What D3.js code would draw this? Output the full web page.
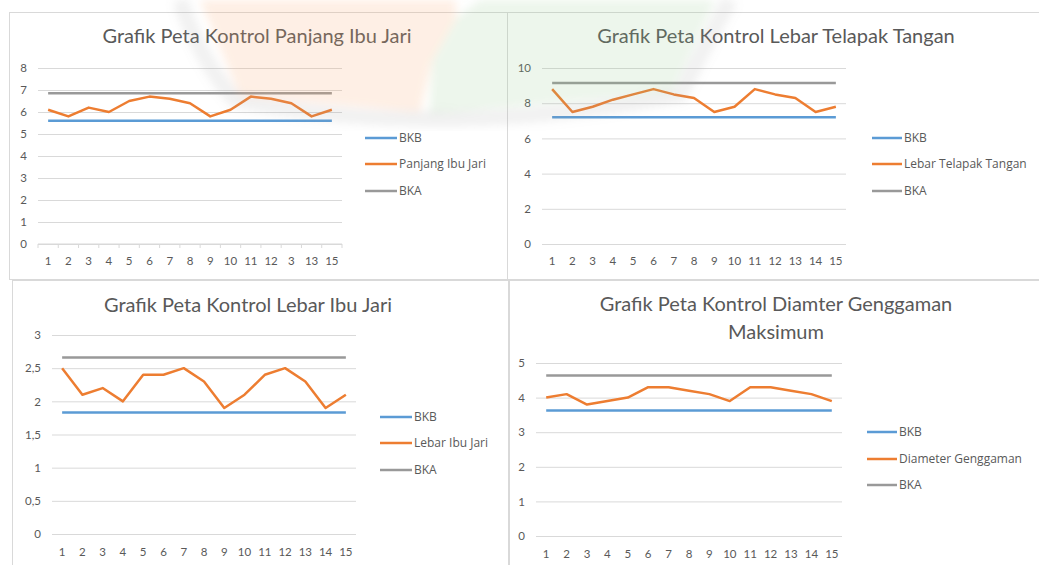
<!DOCTYPE html>
<html>
<head>
<meta charset="utf-8">
<script src="https://cdn.jsdelivr.net/npm/d3@7"></script>
<style>
  html, body { margin: 0; padding: 0; background: #ffffff; }
  svg { display: block; font-family: Lato, "Open Sans", sans-serif; }
</style>
</head>
<body>
<svg id="chart" width="1039" height="565"></svg>
<script>
// ---- data ----
const samplesPanjang = ["1","2","3","4","5","6","7","8","9","10","11","12","3","13","15"];
const samples = ["1","2","3","4","5","6","7","8","9","10","11","12","13","14","15"];

const panjangIbuJari = [6.1, 5.8, 6.2, 6.0, 6.5, 6.7, 6.6, 6.4, 5.8, 6.1, 6.7, 6.6, 6.4, 5.8, 6.1];
const bkbPanjangIbuJari = 5.6;
const bkaPanjangIbuJari = 6.85;

const lebarTelapakTangan = [8.8, 7.5, 7.8, 8.2, 8.5, 8.8, 8.5, 8.3, 7.5, 7.8, 8.8, 8.5, 8.3, 7.5, 7.8];
const bkbLebarTelapakTangan = 7.2;
const bkaLebarTelapakTangan = 9.15;

const lebarIbuJari = [2.5, 2.1, 2.2, 2.0, 2.4, 2.4, 2.5, 2.3, 1.9, 2.1, 2.4, 2.5, 2.3, 1.9, 2.1];
const bkbLebarIbuJari = 1.83;
const bkaLebarIbuJari = 2.66;

const diameterGenggaman = [4.0, 4.1, 3.8, 3.9, 4.0, 4.3, 4.3, 4.2, 4.1, 3.9, 4.3, 4.3, 4.2, 4.1, 3.9];
const bkbDiameterGenggaman = 3.63;
const bkaDiameterGenggaman = 4.64;

const ticksPanjang = [0, 1, 2, 3, 4, 5, 6, 7, 8];
const ticksTelapak = [0, 2, 4, 6, 8, 10];
const ticksLebar = [0, 0.5, 1, 1.5, 2, 2.5, 3];
const ticksDiameter = [0, 1, 2, 3, 4, 5];

// ---- styles ----
const colorBKB = "#5b9bd5";
const colorSeries = "#ed7d31";
const colorBKA = "#999999";
const textColor = "#595959";
const gridColor = "#d9d9d9";
const fmtComma = d => String(d).replace(".", ",");

const svg = d3.select("#chart");

// ---- chart panels ----
const charts = [
  {
    panel: [9, 12, 498, 267],
    title: ["Grafik Peta Kontrol Panjang Ibu Jari"], titleX: 257, titleY: 43,
    cats: samplesPanjang, values: panjangIbuJari, bkb: bkbPanjangIbuJari, bka: bkaPanjangIbuJari,
    name: "Panjang Ibu Jari",
    domain: [0, 8], ticks: ticksPanjang, fmt: d => String(d),
    x0: 38, x1: 342, yTop: 68, yBottom: 244, labelY: 265, axisTicks: true,
    legendX: 365, legendY: [138, 164, 191], legendW: 32
  },
  {
    panel: [507, 12, 540, 267],
    title: ["Grafik Peta Kontrol Lebar Telapak Tangan"], titleX: 776, titleY: 43,
    cats: samples, values: lebarTelapakTangan, bkb: bkbLebarTelapakTangan, bka: bkaLebarTelapakTangan,
    name: "Lebar Telapak Tangan",
    domain: [0, 10], ticks: ticksTelapak, fmt: d => String(d),
    x0: 542, x1: 846, yTop: 68, yBottom: 244, labelY: 265, axisTicks: false,
    legendX: 872, legendY: [138, 164, 191], legendW: 30
  },
  {
    panel: [12, 280, 496, 300],
    title: ["Grafik Peta Kontrol Lebar Ibu Jari"], titleX: 248, titleY: 312,
    cats: samples, values: lebarIbuJari, bkb: bkbLebarIbuJari, bka: bkaLebarIbuJari,
    name: "Lebar Ibu Jari",
    domain: [0, 3], ticks: ticksLebar, fmt: fmtComma,
    x0: 52, x1: 356, yTop: 335, yBottom: 534, labelY: 556, axisTicks: false,
    legendX: 380, legendY: [417, 443, 470], legendW: 32
  },
  {
    panel: [509, 280, 540, 300],
    title: ["Grafik Peta Kontrol Diamter Genggaman", "Maksimum"], titleX: 776, titleY: 311,
    cats: samples, values: diameterGenggaman, bkb: bkbDiameterGenggaman, bka: bkaDiameterGenggaman,
    name: "Diameter Genggaman",
    domain: [0, 5], ticks: ticksDiameter, fmt: d => String(d),
    x0: 536, x1: 842, yTop: 363, yBottom: 536, labelY: 558, axisTicks: false,
    legendX: 867, legendY: [432, 459, 485], legendW: 30
  }
];

charts.forEach(c => {
  const g = svg.append("g");

  // panel frame
  g.append("rect")
    .attr("x", c.panel[0] + 0.5).attr("y", c.panel[1] + 0.5)
    .attr("width", c.panel[2]).attr("height", c.panel[3])
    .attr("fill", "#ffffff")
    .attr("stroke", "#d9d9d9").attr("stroke-width", 1);

  // title
  const t = g.append("text")
    .attr("x", c.titleX).attr("y", c.titleY)
    .attr("text-anchor", "middle")
    .attr("fill", textColor)
    .attr("font-size", 20);
  c.title.forEach((line, i) => {
    t.append("tspan").attr("x", c.titleX).attr("dy", i === 0 ? 0 : 27.5).text(line);
  });

  const x = d3.scaleBand().domain(d3.range(c.cats.length)).range([c.x0, c.x1]);
  const cx = i => x(i) + x.bandwidth() / 2;
  const y = d3.scaleLinear().domain(c.domain).range([c.yBottom, c.yTop]);

  // horizontal gridlines and value labels
  const yAxis = d3.axisLeft(y).tickValues(c.ticks).tickFormat(c.fmt)
    .tickSize(-(c.x1 - c.x0)).tickPadding(11);
  const ya = g.append("g").attr("transform", `translate(${c.x0},0)`).call(yAxis);
  ya.select(".domain").remove();
  ya.selectAll(".tick line").attr("stroke", gridColor).attr("stroke-width", 1);
  ya.selectAll(".tick text").attr("fill", textColor).attr("font-size", 11.5)
    .attr("font-family", "Lato, sans-serif");

  // category axis
  const xa = g.append("g").attr("transform", `translate(0,${c.yBottom})`);
  if (c.axisTicks) {
    xa.append("line").attr("x1", c.x0).attr("x2", c.x1)
      .attr("stroke", gridColor).attr("stroke-width", 1);
    xa.selectAll("line.tk").data(d3.range(c.cats.length + 1)).join("line")
      .attr("class", "tk")
      .attr("x1", i => i < c.cats.length ? x(i) : c.x1)
      .attr("x2", i => i < c.cats.length ? x(i) : c.x1)
      .attr("y1", 0).attr("y2", 4)
      .attr("stroke", gridColor);
  }
  g.selectAll("text.cat").data(c.cats).join("text")
    .attr("class", "cat")
    .attr("x", (d, i) => cx(i)).attr("y", c.labelY)
    .attr("text-anchor", "middle")
    .attr("fill", textColor).attr("font-size", 11.5)
    .text(d => d);

  // control limits and measured series
  const line = d3.line().x((d, i) => cx(i)).y(d => y(d));
  const series = [
    { key: "BKB", data: c.cats.map(() => c.bkb), color: colorBKB },
    { key: c.name, data: c.values, color: colorSeries },
    { key: "BKA", data: c.cats.map(() => c.bka), color: colorBKA }
  ];
  [series[2], series[0], series[1]].forEach(s => {
    g.append("path").datum(s.data)
      .attr("d", line)
      .attr("fill", "none")
      .attr("stroke", s.color)
      .attr("stroke-width", 2.5)
      .attr("stroke-linejoin", "round");
  });

  // legend
  series.forEach((s, i) => {
    g.append("line")
      .attr("x1", c.legendX).attr("x2", c.legendX + c.legendW)
      .attr("y1", c.legendY[i]).attr("y2", c.legendY[i])
      .attr("stroke", s.color).attr("stroke-width", 2.5);
    g.append("text")
      .attr("x", c.legendX + c.legendW + 2).attr("y", c.legendY[i])
      .attr("dy", "0.35em")
      .attr("fill", textColor)
      .attr("font-family", "'Open Sans', sans-serif")
      .attr("font-size", 12)
      .text(s.key);
  });
});

// soft emblem printed faintly over the upper part of the page
const defs = svg.append("defs");
defs.append("filter").attr("id", "soft")
  .append("feGaussianBlur").attr("stdDeviation", 4);
const wm = svg.append("g").attr("filter", "url(#soft)").style("pointer-events", "none");
wm.append("path")
  .attr("d", "M200,0 L456,0 L456,18 L432,60 L420,112 L240,96 Z")
  .attr("fill", "#f7a66a").attr("opacity", 0.18);
wm.append("path")
  .attr("d", "M456,18 L480,0 L715,0 L672,92 L430,114 L432,60 Z")
  .attr("fill", "#8cc98a").attr("opacity", 0.16);
wm.append("path")
  .attr("d", "M180,0 Q200,60 235,100 Q440,140 680,95 Q705,45 730,0")
  .attr("fill", "none").attr("stroke", "#9a9a9a")
  .attr("stroke-width", 16).attr("opacity", 0.14);
</script>
</body>
</html>
